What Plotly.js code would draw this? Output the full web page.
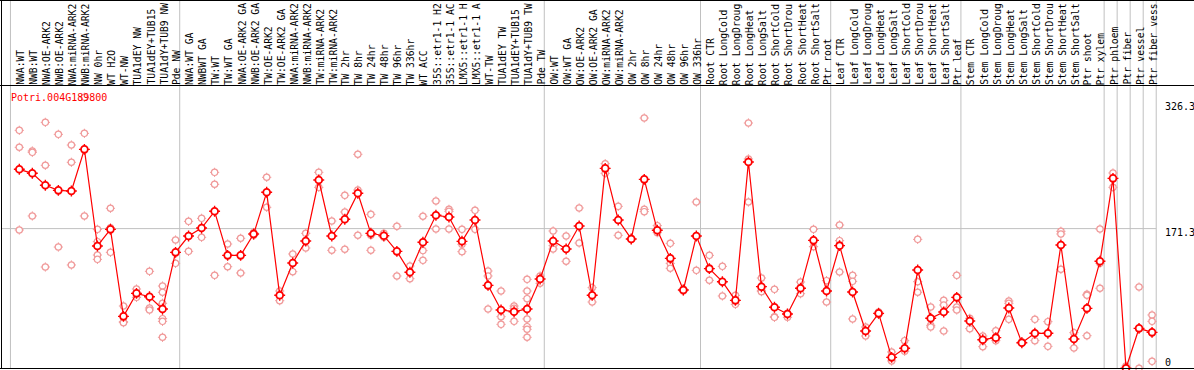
<!DOCTYPE html>
<html>
<head>
<meta charset="utf-8">
<script src="https://cdn.plot.ly/plotly-3.0.1.min.js"></script>
<style>html,body{margin:0;padding:0;background:#fff;}#chart{width:1194px;height:370px;}</style>
</head>
<body>
<div id="chart"></div>
<script>
const geneName = "Potri.004G189800";
const categories = [
"NWA:WT","NWB:WT","NWA:OE-ARK2","NWB:OE-ARK2","NWA:miRNA-ARK2","NWB:miRNA-ARK2","NW 0hr","WT H2O","WT-NW","TUA1dEY NW","TUA1dEY+TUB15","TUA1dY+TUB9 NW","Pde NW",
"NWA:WT GA","NWBWT GA","TW:WT","TW:WT GA","NWA:OE-ARK2 GA","NWB:OE-ARK2 GA","TW:OE-ARK2","TW:OE-ARK2 GA","NWA:miRNA-ARK2","NWB:miRNA-ARK2","TW:miRNA-ARK2","TW:miRNA-ARK2",
"TW 2hr","TW 8hr","TW 24hr","TW 48hr","TW 96hr","TW 336hr","WT ACC","35S::etr1-1 H2","35S::etr1-1 AC","LMX5::etr1-1 H","LMX5::etr1-1 A","WT-TW","TUA1dEY TW","TUA1dEY+TUB15","TUA1dY+TUB9 TW","Pde TW",
"OW:WT","OW:WT GA","OW:OE-ARK2","OW:OE-ARK2 GA","OW:miRNA-ARK2","OW:miRNA-ARK2","OW 2hr","OW 8hr","OW 24hr","OW 48hr","OW 96hr","OW 336hr",
"Root CTR","Root LongCold","Root LongDroug","Root LongHeat","Root LongSalt","Root ShortCold","Root ShortDrou","Root ShortHeat","Root ShortSalt","Ptr root",
"Leaf CTR","Leaf LongCold","Leaf LongDroug","Leaf LongHeat","Leaf LongSalt","Leaf ShortCold","Leaf ShortDrou","Leaf ShortHeat","Leaf ShortSalt","Ptr leaf",
"Stem CTR","Stem LongCold","Stem LongDroug","Stem LongHeat","Stem LongSalt","Stem ShortCold","Stem ShortDrou","Stem ShortHeat","Stem ShortSalt","Ptr shoot","Ptr xylem",
"Ptr phloem","Ptr fiber","Ptr vessel","Ptr fiber vess"
];
const meanValues = [
244.0,239.1,224.4,218.2,217.4,268.5,150.0,170.4,63.7,91.9,87.8,72.7,142.2,
162.2,172.0,192.5,138.5,138.5,164.7,215.8,89.5,129.1,156.1,230.9,162.2,
182.7,214.6,165.5,162.6,143.4,117.7,154.5,187.6,185.5,155.7,181.9,101.7,71.5,69.4,72.7,109.5,
156.1,146.3,174.5,89.5,245.2,181.9,158.6,231.7,169.2,134.8,96.0,162.2,
122.2,106.2,83.3,253.0,100.1,74.8,66.6,98.1,156.9,94.8,
150.4,93.6,45.7,67.4,13.4,24.5,120.5,61.3,69.0,87.0,
58.0,35.1,37.6,73.9,31.4,42.9,42.9,151.2,35.9,73.5,131.2,
232.9,0.0,49.0,44.1
];
const replicateValues = [
[291.8,271.0,169.6],[266.5,264.8,186.8],[301.6,248.9,124.2],[286.9,148.7],[273.8,252.6,126.7],[332.3,288.1,186.8],
[170.4,155.3,138.9,133.6],[196.2,172.5,142.2],[76.4,57.2,56.0],[97.2,87.0],[118.9,73.9,71.5],[100.9,93.2,79.7,60.9,57.6,38.0],[157.3,128.7],
[180.2,143.4],[183.9,160.6],[240.3,225.6,114.0],[152.4,124.6],[159.4,116.9],[166.5,163.0],[234.2,197.4],[94.8,82.9],[140.2,118.5],[165.5,147.5],[240.3,221.9],[180.6,144.7],
[212.1,191.7,145.9],[262.4,218.6,163.1],[188.8,163.1,144.7],[165.5,160.6],[174.1,113.2],[125.4,109.9],[186.4,144.3,132.4],[205.2,170.8],[194.9,192.5,170.8],[170.4,152.0,143.0],[193.7,170.4],
[119.3,113.2,72.7],[94.8,63.3,53.9],[76.4,73.5,57.6],[109.1,94.8,85.4,60.5,51.1,47.8,38.0],[113.2,104.2],
[168.4,150.4,146.3],[162.2,131.2],[196.6,153.6],[98.9,81.3],[250.9,239.1],[198.6,163.1],[159.4,157.8],[306.9,194.9,192.1],[174.9,166.3],[153.2,128.7,122.6],[97.2,94.8],[203.9,120.1],
[138.5,107.9],[125.0,88.7],[89.5,78.4],[300.8,256.7,203.9],[110.7,95.6,94.0],[96.8,63.3,62.5],[67.4,62.5],[105.8,91.5],[170.4,149.2],[107.5,81.3],
[175.7,156.5,118.1],[114.0,106.6,60.5],[50.6,39.6],[69.0,66.0],[20.0,9.0],[33.9,20.8],[158.1,106.2,93.2],[75.2,52.7,50.6],[83.3,77.6,45.7],[114.0,75.2,71.5],
[61.3,48.6],[39.6,26.5],[46.1,33.9],[82.5,79.7,60.0],[32.7,31.0],[60.0,33.9],[57.2,26.9],[168.0,164.7,121.4],[43.7,24.9],[90.7,89.5,40.0],[170.8,128.7,98.1],
[239.5,221.9],[2.8,0.0],[99.7,0.0],[65.4,57.6,8.5]
];
const groupStarts = [0,13,41,53,63,73,84,85,86,87,88];
const yTickValues = [326.3,171.3,0];
const yTickLabels = ["326.3","171.3","0"];

const W = 1194, H = 370;
const xIdx = categories.map((c,i)=>i);
const repX = [], repY = [];
replicateValues.forEach((arr,i)=>arr.forEach(v=>{repX.push(i);repY.push(v);}));

const pink = "#f09a9a", red = "#ff0000";
const font = "DejaVu Sans Mono, monospace";

// pixel mapping: x = 19.3 + 13.02*i ; y = 368.3 - 0.8155*v
const xr = [-19.3/13.02, (W-19.3)/13.02];
const yr = [(368.3-H)/0.8155, 368.3/0.8155];
const py = p => 1 - p/H;

const traces = [
  {x:repX,y:repY,mode:"markers",type:"scatter",hoverinfo:"skip",
   marker:{symbol:"cross-thin-open",size:6.6,color:pink,line:{color:pink,width:1}},cliponaxis:false},
  {x:repX,y:repY,mode:"markers",type:"scatter",
   marker:{symbol:"circle",size:6.3,color:"white",line:{color:pink,width:1.2}},cliponaxis:false},
  {x:xIdx,y:meanValues,mode:"lines",type:"scatter",line:{color:red,width:1.2},cliponaxis:false},
  {x:xIdx,y:meanValues,mode:"markers",type:"scatter",hoverinfo:"skip",
   marker:{symbol:"cross-thin-open",size:7.8,color:red,line:{color:red,width:1.4}},cliponaxis:false},
  {x:xIdx,y:meanValues,mode:"markers",type:"scatter",
   marker:{symbol:"circle",size:6.8,color:"white",line:{color:red,width:1.8}},cliponaxis:false}
];

const shapes = [];
groupStarts.forEach(b=>{
  shapes.push({type:"line",xref:"x",yref:"paper",x0:b-0.68,x1:b-0.68,y0:py(369),y1:1,line:{color:"#c0c0c0",width:1},layer:"below"});
});
shapes.push({type:"line",xref:"paper",yref:"y",x0:1.5/W,x1:(19.3+13.02*(88-0.68))/W,y0:171.3,y1:171.3,line:{color:"#c0c0c0",width:1},layer:"below"});
[0.5,85.5,368.5].forEach(p=>shapes.push({type:"line",xref:"paper",yref:"paper",x0:0,x1:1,y0:py(p),y1:py(p),line:{color:"#000",width:1}}));
shapes.push({type:"line",xref:"paper",yref:"paper",x0:1.5/W,x1:1.5/W,y0:py(369),y1:1,line:{color:"#000",width:1}});

const annotations = [];
categories.forEach((c,i)=>{
  annotations.push({x:i,y:py(85),xref:"x",yref:"paper",text:c,showarrow:false,textangle:-90,xshift:1,
    xanchor:"center",yanchor:"bottom",borderpad:0,borderwidth:0,font:{family:font,size:9.7,color:"#000"}});
});
annotations.push({x:9/W,y:py(97),xref:"paper",yref:"paper",text:geneName,showarrow:false,xanchor:"left",yanchor:"middle",
  font:{family:font,size:10,color:red}});
const labelY = [107,232,362];
yTickLabels.forEach((t,k)=>{
  annotations.push({x:1163/W,y:py(labelY[k]),xref:"paper",yref:"paper",text:t,showarrow:false,xanchor:"left",yanchor:"middle",
    font:{family:font,size:10,color:"#000"}});
});

const layout = {
  width:W,height:H,margin:{l:0,r:0,t:0,b:0,pad:0},
  paper_bgcolor:"#fff",plot_bgcolor:"#fff",showlegend:false,
  xaxis:{range:xr,visible:false,fixedrange:true},
  yaxis:{range:yr,visible:false,fixedrange:true,tickvals:yTickValues,ticktext:yTickLabels},
  shapes:shapes,annotations:annotations,font:{family:font}
};
Plotly.newPlot("chart",traces,layout,{staticPlot:true,displayModeBar:false});
</script>
</body>
</html>
